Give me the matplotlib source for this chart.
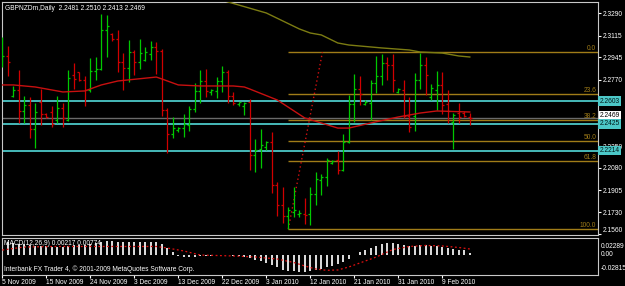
import numpy as np
import matplotlib
matplotlib.use("Agg")
import matplotlib.pyplot as plt
import matplotlib.transforms as mtransforms

plt.rcParams['font.family'] = ['Liberation Sans', 'DejaVu Sans']

# daily GBPNZD bars, 5 Nov 2009 .. 12 Feb 2010
opens = [2.2909, 2.2956, 2.2642, 2.2689, 2.2525, 2.2572, 2.2384, 2.2595, 2.2505, 2.2517,
         2.2454, 2.2548, 2.2454, 2.2807, 2.2829, 2.2768, 2.2689, 2.2838, 2.2854, 2.3160,
         2.3132, 2.3089, 2.2909, 2.2862, 2.2987, 2.2909, 2.2925, 2.2972, 2.3027, 2.2995,
         2.2533, 2.2344, 2.2376, 2.2391, 2.2415, 2.2540, 2.2682, 2.2760, 2.2674, 2.2682,
         2.2760, 2.2831, 2.2642, 2.2580, 2.2564, 2.2595, 2.2180, 2.2227, 2.2243, 2.2282,
         2.1945, 2.1788, 2.1702, 2.1733, 2.1717, 2.1717, 2.1717, 2.1874, 2.1984, 2.2007,
         2.2117, 2.2141, 2.2062, 2.2282, 2.2580, 2.2697, 2.2580, 2.2587, 2.2744, 2.2799,
         2.2901, 2.2885, 2.2674, 2.2689, 2.2486, 2.2486, 2.2768, 2.2885, 2.2635, 2.2689,
         2.2729, 2.2580, 2.2439, 2.2509, 2.2509, 2.2481]
highs = [2.3107, 2.3034, 2.2721, 2.2846, 2.2642, 2.2635, 2.2587, 2.2697, 2.2509, 2.2564,
         2.2642, 2.2587, 2.2846, 2.2901, 2.2831, 2.2799, 2.2940, 2.2948, 2.3285, 2.3277,
         2.3136, 2.3160, 2.2979, 2.3081, 2.3003, 2.3089, 2.3027, 2.3074, 2.3066, 2.3011,
         2.2548, 2.2478, 2.2399, 2.2501, 2.2564, 2.2744, 2.2846, 2.2854, 2.2697, 2.2791,
         2.2878, 2.2846, 2.2674, 2.2598, 2.2598, 2.2619, 2.2305, 2.2384, 2.2290, 2.2360,
         2.1968, 2.1929, 2.1772, 2.1929, 2.1749, 2.1843, 2.1929, 2.2047, 2.2031, 2.2156,
         2.2141, 2.2211, 2.2344, 2.2650, 2.2815, 2.2799, 2.2611, 2.2768, 2.2956, 2.2972,
         2.2948, 2.2972, 2.2705, 2.2768, 2.2635, 2.2823, 2.2979, 2.2948, 2.2736, 2.2838,
         2.2831, 2.2689, 2.2509, 2.2587, 2.2525, 2.2510]
lows = [2.2870, 2.2799, 2.2635, 2.2431, 2.2431, 2.2313, 2.2235, 2.2415, 2.2470, 2.2399,
        2.2431, 2.2399, 2.2446, 2.2697, 2.2760, 2.2564, 2.2674, 2.2768, 2.2850, 2.2948,
        2.3074, 2.2831, 2.2689, 2.2752, 2.2807, 2.2854, 2.2917, 2.2925, 2.2815, 2.2486,
        2.2195, 2.2313, 2.2360, 2.2321, 2.2368, 2.2517, 2.2587, 2.2635, 2.2650, 2.2627,
        2.2674, 2.2587, 2.2572, 2.2564, 2.2493, 2.2062, 2.2047, 2.2078, 2.2219, 2.1882,
        2.1702, 2.1647, 2.1600, 2.1694, 2.1694, 2.1639, 2.1631, 2.1788, 2.1866, 2.1937,
        2.2109, 2.2031, 2.2054, 2.2274, 2.2439, 2.2572, 2.2572, 2.2454, 2.2666, 2.2729,
        2.2768, 2.2674, 2.2666, 2.2470, 2.2360, 2.2368, 2.2697, 2.2650, 2.2611, 2.2533,
        2.2501, 2.2431, 2.2227, 2.2431, 2.2478, 2.2413]
closes = [2.2956, 2.2909, 2.2689, 2.2525, 2.2572, 2.2384, 2.2517, 2.2501, 2.2478, 2.2423,
          2.2548, 2.2470, 2.2783, 2.2776, 2.2768, 2.2689, 2.2838, 2.2854, 2.3160, 2.3191,
          2.3089, 2.2909, 2.2862, 2.2987, 2.2909, 2.2979, 2.2987, 2.3027, 2.2995, 2.2533,
          2.2344, 2.2391, 2.2391, 2.2423, 2.2540, 2.2682, 2.2760, 2.2682, 2.2689, 2.2760,
          2.2831, 2.2642, 2.2587, 2.2595, 2.2590, 2.2180, 2.2219, 2.2258, 2.2282, 2.1945,
          2.1788, 2.1702, 2.1749, 2.1749, 2.1725, 2.1709, 2.1874, 2.1992, 2.2007, 2.2141,
          2.2133, 2.2062, 2.2282, 2.2580, 2.2697, 2.2658, 2.2595, 2.2744, 2.2799, 2.2901,
          2.2885, 2.2768, 2.2697, 2.2486, 2.2399, 2.2768, 2.2885, 2.2807, 2.2705, 2.2729,
          2.2572, 2.2525, 2.2493, 2.2478, 2.2486, 2.2469]

# moving averages, read at bar positions
ma_fast_idx = [0, 2, 6, 10, 11, 15, 18, 21, 28, 29, 32, 36, 42, 44, 45, 50, 55, 58, 61, 63, 67, 72, 76, 79, 85]
ma_fast_val = [2.2729, 2.2729, 2.2713, 2.2682, 2.2674, 2.2682, 2.2729, 2.2760, 2.2791, 2.2776,
               2.2729, 2.2721, 2.2721, 2.2713, 2.2697, 2.2611, 2.2470, 2.2431, 2.2391, 2.2391,
               2.2431, 2.2478, 2.2509, 2.2525, 2.2517]
ma_slow_idx = [39, 48, 54, 56, 58, 61, 63, 69, 74, 76, 80, 83, 85]
ma_slow_val = [2.3405, 2.3293, 2.3168, 2.3136, 2.3121, 2.3058, 2.3042, 2.3019, 2.3003, 2.2987,
               2.2979, 2.2956, 2.2948]

# horizontal levels
cyan_levels = [2.2603, 2.2425, 2.2214]
bid_price = 2.2469
fib_high = 2.2985
fib_low = 2.1600
fib_ratios = [0.0, 23.6, 38.2, 50.0, 61.8, 100.0]
fib_start = 52
fib_anchor_x = [52, 58.2]

price_ticks = [2.3290, 2.3115, 2.2945, 2.2770, 2.2250, 2.2080, 2.1905, 2.1730, 2.1560]

# MACD(12,26,9)
macd_hist = [0.0165, 0.0170, 0.0160, 0.0150, 0.0140, 0.0135, 0.0125, 0.0120, 0.0115, 0.0110,
             0.0110, 0.0110, 0.0120, 0.0130, 0.0135, 0.0135, 0.0145, 0.0160, 0.0175, 0.0185,
             0.0185, 0.0180, 0.0175, 0.0175, 0.0170, 0.0175, 0.0175, 0.0180, 0.0175, 0.0150,
             0.0090, 0.0030, -0.0020, -0.0035, -0.0035, -0.0030, -0.0020, -0.0015, -0.0015, -0.0010,
             -0.0005, -0.0010, -0.0020, -0.0025, -0.0035, -0.0047, -0.0075, -0.0088, -0.0116, -0.0143,
             -0.0171, -0.0212, -0.0226, -0.0230, -0.0240, -0.0240, -0.0226, -0.0212, -0.0199, -0.0171,
             -0.0157, -0.0130, -0.0102, -0.0061, -0.0010, 0.0036, 0.0063, 0.0091, 0.0119, 0.0146,
             0.0160, 0.0160, 0.0146, 0.0132, 0.0119, 0.0119, 0.0132, 0.0132, 0.0119, 0.0115,
             0.0105, 0.0091, 0.0077, 0.0063, 0.0060, 0.00217]
signal_idx = [0, 4, 10, 20, 28, 30, 33, 36, 42, 46, 50, 53, 55, 57, 59, 61, 63, 65, 68, 71, 74, 77, 80, 83, 85]
signal_val = [0.0063, 0.0105, 0.0112, 0.0112, 0.0112, 0.0091, 0.0050, -0.0006, -0.0019, -0.0033,
              -0.0061, -0.0109, -0.0157, -0.0199, -0.0217, -0.0212, -0.0171, -0.0116, -0.0033, 0.0070,
              0.0112, 0.0126, 0.0119, 0.0098, 0.00774]

date_idx = [0, 8, 16, 24, 32, 40, 48, 56, 64, 72, 80]
date_labels = ['5 Nov 2009', '15 Nov 2009', '24 Nov 2009', '3 Dec 2009', '13 Dec 2009',
               '22 Dec 2009', '3 Jan 2010', '12 Jan 2010', '21 Jan 2010', '31 Jan 2010', '9 Feb 2010']

W, H = 625, 286
fig = plt.figure(figsize=(W / 100, H / 100), dpi=100, facecolor='black')

def px_axes(x0, y0, x1, y1):
    return fig.add_axes([x0 / W, 1 - y1 / H, (x1 - x0) / W, (y1 - y0) / H])

ax = px_axes(2, 1.5, 598, 235)
axm = px_axes(2, 238, 598, 275)

xlim = (-0.055, -0.055 + 596 / 5.5)
fg = '#c8c8c8'
for a in (ax, axm):
    a.set_facecolor('black')
    a.set_xlim(*xlim)
    for s in a.spines.values():
        s.set_color(fg)
        s.set_linewidth(0.8)

small = 4.8
idx = np.arange(len(opens))
o = np.array(opens); h = np.array(highs); l = np.array(lows); c = np.array(closes)
cols = np.where(c >= o, '#00c800', '#d00000')

ax.set_ylim(2.1553, 2.3383)

# levels under the bars
for lv in cyan_levels:
    ax.axhline(lv, color='#4cc8c8', lw=1.3, zorder=1)
ax.axhline(bid_price, color='#6a6a6a', lw=1.0, zorder=1)

fib_col = '#a07c18'
rng = fib_high - fib_low
for r in fib_ratios:
    lv = fib_high - rng * r / 100
    ax.hlines(lv, fib_start, xlim[1], color=fib_col, lw=1.0, zorder=1)
    ax.text(xlim[1] - 0.3, lv, '%.1f' % r, color=fib_col, fontsize=small,
            ha='right', va='bottom', zorder=3)
ax.plot(fib_anchor_x, [fib_low, fib_high], color='#d01010', lw=1.0, ls=(0, (1, 2)), zorder=2)

# bars
ax.vlines(idx, l, h, colors=cols, lw=0.9, zorder=4)
ax.hlines(o, idx - 0.38, idx, colors=cols, lw=0.9, zorder=4)
ax.hlines(c, idx, idx + 0.38, colors=cols, lw=0.9, zorder=4)

ax.plot(ma_fast_idx, ma_fast_val, color='#c81010', lw=1.0, zorder=5)
ax.plot(ma_slow_idx, ma_slow_val, color='#7c7c12', lw=1.0, zorder=5)

# right price scale
ax.yaxis.tick_right()
ax.set_yticks(price_ticks)
ax.set_yticklabels(['%.4f' % p for p in price_ticks])
ax.tick_params(axis='y', colors='white', labelsize=small, length=2, width=0.8, pad=1.5)
ax.get_yticklabels()[-1].set_va('bottom')
ax.set_xticks([])

tr = mtransforms.blended_transform_factory(ax.transAxes, ax.transData)
ax.text(1.003, bid_price + 0.0017, '%.4f' % bid_price, transform=tr, fontsize=small, color='black',
        ha='left', va='center', clip_on=False, zorder=6,
        bbox=dict(boxstyle='square,pad=0.15', fc='white', ec='none'))
for lv in cyan_levels:
    ax.text(1.003, lv, '%.4f' % lv, transform=tr, fontsize=small, color='#001818',
            ha='left', va='center', clip_on=False, zorder=7,
            bbox=dict(boxstyle='square,pad=0.2', fc='#4cc8c8', ec='none'))

ax.text(0.005, 0.985, 'GBPNZDm,Daily  %.4f %.4f %.4f %.4f' % (opens[-1], highs[-1], lows[-1], closes[-1]),
        transform=ax.transAxes, color='white', fontsize=small, ha='left', va='top')

# MACD pane
axm.set_ylim(-0.02815, 0.02289)
axm.bar(idx, macd_hist, width=0.38, color='#d8d8d8', zorder=2)
axm.plot(signal_idx, signal_val, color='#e01010', lw=0.9, ls=(0, (1.5, 2)), zorder=3)
axm.yaxis.tick_right()
axm.set_yticks([])
trm = mtransforms.blended_transform_factory(axm.transAxes, axm.transAxes)
for txt, yy in [('0.02289', 0.76), ('0.00', 0.56), ('-0.02815', 0.18)]:
    axm.text(1.004, yy, txt, transform=trm, color='white', fontsize=small,
             ha='left', va='center', clip_on=False)
axm.text(0.003, 0.86, 'MACD(12,26,9) %.5f %.5f' % (macd_hist[-1], signal_val[-1]),
         transform=axm.transAxes, color='white', fontsize=small, ha='left', va='center', zorder=4)
axm.text(0.003, 0.17, 'Interbank FX Trader 4, \u00a9 2001-2009 MetaQuotes Software Corp.',
         transform=axm.transAxes, color='white', fontsize=small, ha='left', va='center', zorder=4)

axm.set_xticks(date_idx)
axm.set_xticklabels(date_labels)
axm.tick_params(axis='x', colors='white', labelsize=small, length=2.5, width=0.8, pad=0.5)
for t in axm.get_xticklabels():
    t.set_ha('left')

fig.savefig('out.png', dpi=100, facecolor='black')
